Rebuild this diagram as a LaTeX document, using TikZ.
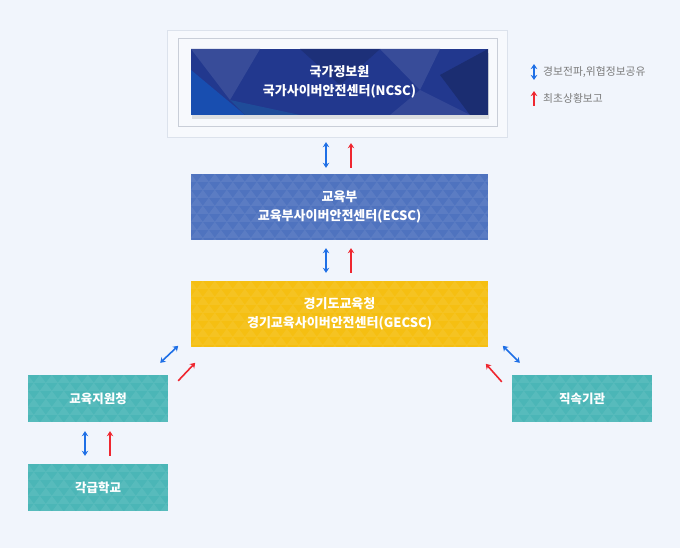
\documentclass[tikz,border=0pt]{standalone}
\usepackage{fontspec}
\setmainfont{Noto Sans CJK KR}
\usetikzlibrary{arrows.meta,shadows}
\definecolor{bgc}{HTML}{F1F5FC}
\definecolor{framec}{HTML}{DCE2EC}
\definecolor{innerc}{HTML}{C9CED8}
\definecolor{ncscc}{HTML}{22388E}
\definecolor{ecscc}{HTML}{4F73BF}
\definecolor{gecscc}{HTML}{F5BF12}
\definecolor{tealc}{HTML}{4BB6B7}
\definecolor{sharec}{HTML}{1E6FE6}
\definecolor{reportc}{HTML}{EF2730}
\definecolor{legendc}{HTML}{7B7B7B}
\tikzset{
  orgbox/.style={minimum width=297pt,minimum height=66pt,inner sep=0pt,
    text=white,font=\bfseries\fontsize{13}{19}\selectfont,align=center},
  subbox/.style={fill=tealc,minimum width=140pt,minimum height=47pt,inner sep=0pt,
    text=white,font=\bfseries\fontsize{12.5}{14}\selectfont},
  share/.style={sharec,line width=1.6pt,{Stealth[length=5pt,width=6.5pt]}-{Stealth[length=5pt,width=6.5pt]}},
  report/.style={reportc,line width=1.6pt,-{Stealth[length=5pt,width=6.5pt]}},
  legendtext/.style={anchor=west,text=legendc,inner sep=0pt,font=\fontsize{10.8}{12}\selectfont}
}
\begin{document}
\begin{tikzpicture}[x=1pt,y=-1pt]
\fill[bgc] (0,0) rectangle (680,548);
\useasboundingbox (0,0) rectangle (680,548);
\draw[framec,fill=white!40!bgc] (167.5,30.5) rectangle (507.5,137.5);
\draw[innerc] (178.5,38.5) rectangle (497.5,126.5);
\node[orgbox,fill=ncscc,drop shadow={opacity=0.22,shadow xshift=1pt,shadow yshift=-4pt}] (ncsc) at (339.5,82) {};
\begin{scope}
\clip (191,49) rectangle (488,115);
\fill[ncscc!82!cyan!85!blue] (191,70) -- (245,115) -- (191,115) -- cycle;
\fill[ncscc!90!white] (191,49) -- (260,49) -- (230,100) -- cycle;
\fill[ncscc!85!black] (300,49) -- (380,49) -- (340,85) -- cycle;
\fill[ncscc!90!white] (380,49) -- (440,49) -- (420,90) -- cycle;
\fill[ncscc!80!black] (440,75) -- (488,49) -- (488,115) -- (470,115) -- cycle;
\fill[ncscc!90!cyan] (230,100) -- (300,115) -- (245,115) -- cycle;
\fill[ncscc!92!white] (420,90) -- (470,115) -- (390,115) -- cycle;
\end{scope}
\node[orgbox] (ncsclabel) at (ncsc) {국가정보원\\국가사이버안전센터(NCSC)};
\node[orgbox,fill=ecscc] (ecsc) at (339.5,207) {};
\node[orgbox,fill=gecscc] (gecsc) at (339.5,314) {};
\node[subbox] (support) at (98,398.5) {};
\node[subbox] (direct) at (582,398.5) {};
\node[subbox] (school) at (98,487.5) {};
\foreach \n in {ecsc,gecsc,support,direct,school}{
  \begin{scope}
  \clip (\n.south west) rectangle (\n.north east);
  \begin{scope}[shift={(\n.north west)}]
  \foreach \r in {0,...,8}{
    \foreach \c in {-5,...,25}{
      \fill[white,opacity=0.07] (\c*12+\r*6-6,\r*8+8) -- ++(6,-8) -- ++(6,8) -- cycle;
    }
  }
  \end{scope}
  \end{scope}
}
\node[orgbox] (ecsclabel) at (ecsc) {교육부\\교육부사이버안전센터(ECSC)};
\node[orgbox] (gecsclabel) at (gecsc) {경기도교육청\\경기교육사이버안전센터(GECSC)};
\node[subbox,fill=none] (supportlabel) at (support) {교육지원청};
\node[subbox,fill=none] (directlabel) at (direct) {직속기관};
\node[subbox,fill=none] (schoollabel) at (school) {각급학교};
\draw[share] ([xshift=-13.5pt,yshift=-27pt]ncsc.south) -- ([xshift=-13.5pt,yshift=6pt]ecsc.north);
\draw[report] ([xshift=11.5pt,yshift=6pt]ecsc.north) -- ([xshift=11.5pt,yshift=-28pt]ncsc.south);
\draw[share] ([xshift=-13.5pt,yshift=-8pt]ecsc.south) -- ([xshift=-13.5pt,yshift=8pt]gecsc.north);
\draw[report] ([xshift=11.5pt,yshift=8pt]gecsc.north) -- ([xshift=11.5pt,yshift=-8pt]ecsc.south);
\draw[share] ([xshift=-8pt,yshift=12pt]support.north east) -- ([xshift=10pt,yshift=29pt]support.north east);
\draw[report] ([xshift=10pt,yshift=-6pt]support.north east) -- ([xshift=27pt,yshift=12pt]support.north east);
\draw[share] ([xshift=-9pt,yshift=29pt]direct.north west) -- ([xshift=8pt,yshift=12pt]direct.north west);
\draw[report] ([xshift=-10pt,yshift=-7pt]direct.north west) -- ([xshift=-26pt,yshift=11pt]direct.north west);
\draw[share] ([xshift=-13pt,yshift=-9pt]support.south) -- ([xshift=-13pt,yshift=8pt]school.north);
\draw[report] ([xshift=12pt,yshift=8pt]school.north) -- ([xshift=12pt,yshift=-9pt]support.south);
\coordinate (legshare) at (534,64);
\coordinate (legreport) at (534,106);
\draw[share,line width=1.3pt] (legshare) -- ++(0,16) coordinate (legshareend);
\draw[report,line width=1.3pt] (legreport) -- ++(0,-15) coordinate (legreportend);
\node[legendtext] (sharetext) at (543,72) {경보전파,위협정보공유};
\node[legendtext] (reporttext) at (543,98) {최초상황보고};
\end{tikzpicture}
\end{document}
